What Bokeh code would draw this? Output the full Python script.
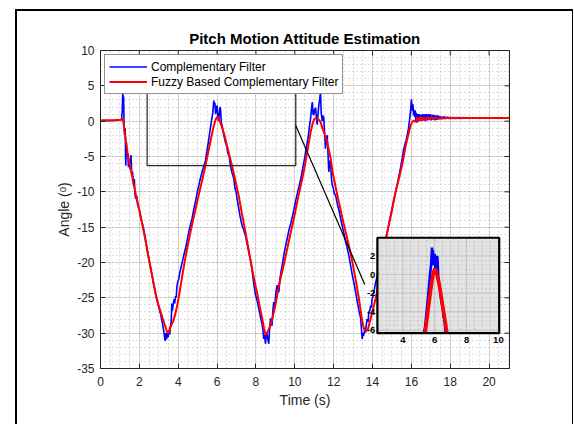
import numpy as np
from bokeh.plotting import figure
from bokeh.models import (Range1d, SingleIntervalTicker, Legend, LegendItem,
                          PrintfTickFormatter, InlineStyleSheet)
from bokeh.embed import file_html
from bokeh.resources import INLINE
from bokeh.core.properties import value

# ---------------- data ----------------
title_text = "Pitch Motion Attitude Estimation"
x_label = "Time (s)"
y_label = "Angle (\u1d52)"
series_names = ["Complementary Filter", "Fuzzy Based Complementary Filter"]

t_cf = [0.00, 0.30, 0.60, 0.90, 1.08, 1.12, 1.15, 1.17, 1.19, 1.21, 1.24, 1.27, 1.30, 1.33, 1.36, 1.40,
        1.44, 1.48, 1.52, 1.57, 1.61, 1.65, 1.70, 1.74, 1.78, 1.82, 1.87, 1.91, 1.96, 2.00, 2.05, 2.10,
        2.20, 2.30, 2.40, 2.50, 2.60, 2.70, 2.80, 2.90, 3.00, 3.10, 3.18, 3.25, 3.30, 3.33, 3.36, 3.40,
        3.44, 3.48, 3.52, 3.56, 3.60, 3.64, 3.67, 3.70, 3.74, 3.78, 3.82, 3.86, 3.90, 3.93, 3.97, 4.02,
        4.08, 4.15, 4.22, 4.30, 4.37, 4.45, 4.55, 4.65, 4.71, 4.80, 4.90, 5.00, 5.07, 5.14, 5.22, 5.30,
        5.40, 5.48, 5.56, 5.65, 5.72, 5.78, 5.83, 5.86, 5.89, 5.92, 5.96, 6.00, 6.04, 6.08, 6.12, 6.15,
        6.18, 6.22, 6.26, 6.32, 6.38, 6.43, 6.50, 6.56, 6.62, 6.68, 6.74, 6.80, 6.86, 6.92, 6.98, 7.03,
        7.10, 7.18, 7.24, 7.29, 7.35, 7.40, 7.46, 7.52, 7.58, 7.65, 7.72, 7.80, 7.88, 7.97, 8.06, 8.15,
        8.24, 8.32, 8.37, 8.40, 8.44, 8.49, 8.53, 8.57, 8.61, 8.66, 8.70, 8.75, 8.79, 8.83, 8.87, 8.92,
        8.97, 9.02, 9.09, 9.14, 9.18, 9.24, 9.30, 9.35, 9.42, 9.50, 9.61, 9.70, 9.80, 9.95, 10.05, 10.15,
        10.29, 10.40, 10.50, 10.58, 10.64, 10.70, 10.76, 10.81, 10.85, 10.90, 10.94, 10.98, 11.02, 11.07,
        11.11, 11.15, 11.20, 11.24, 11.28, 11.32, 11.36, 11.41, 11.45, 11.49, 11.53, 11.58, 11.62, 11.67,
        11.71, 11.75, 11.80, 11.84, 11.89, 11.93, 11.98, 12.03, 12.10, 12.18, 12.27, 12.36, 12.44, 12.52,
        12.61, 12.70, 12.78, 12.87, 12.96, 13.05, 13.13, 13.22, 13.30, 13.39, 13.43, 13.47, 13.50, 13.53,
        13.56, 13.60, 13.64, 13.68, 13.72, 13.77, 13.81, 13.86, 13.90, 13.94, 13.98, 14.03, 14.07, 14.15,
        14.25, 14.35, 14.45, 14.55, 14.65, 14.76, 14.88, 15.00, 15.10, 15.19, 15.30, 15.40, 15.48, 15.54,
        15.60, 15.66, 15.72, 15.79, 15.85, 15.90, 15.94, 15.97, 16.00, 16.02, 16.05, 16.08, 16.11, 16.14,
        16.17, 16.20, 16.23, 16.26, 16.29, 16.32, 16.36, 16.40, 16.44, 16.48, 16.52, 16.57, 16.62, 16.67,
        16.72, 16.77, 16.82, 16.87, 16.92, 16.97, 17.02, 17.07, 17.12, 17.17, 17.22, 17.27, 17.32, 17.37,
        17.42, 17.47, 17.52, 17.57, 17.62, 17.67, 17.72, 17.77, 17.82, 17.87, 17.93, 17.98, 18.04, 18.10,
        18.16, 18.22, 18.28, 18.34, 18.40, 18.48, 18.56, 18.64, 18.72, 18.80, 18.90, 19.00, 19.20, 19.60,
        20.00, 20.50, 21.05]
v_cf = [0.10, 0.12, 0.10, 0.15, 0.20, 1.5, 4.4, 2.0, 3.5, -0.5, -2.0, -1.0, -6.3, -3.0, -5.0, -4.5,
        -6.5, -5.8, -6.8, -4.8, -7.5, -7.2, -9.0, -8.2, -10.5, -11.0, -10.6, -11.8, -12.2, -12.6, -13.4, -14.0,
        -15.0, -16.4, -18.2, -19.6, -21.0, -22.5, -24.0, -25.3, -26.3, -27.4, -28.5, -29.6, -30.6, -31.1, -30.0, -30.9,
        -29.8, -30.6, -29.6, -30.2, -29.0, -28.3, -25.8, -26.8, -26.0, -25.2, -25.8, -24.8, -24.9, -23.5, -22.8, -22.4,
        -21.5, -20.6, -19.8, -18.8, -18.1, -17.0, -15.6, -14.4, -13.8, -12.5, -11.2, -9.8, -9.0, -8.1, -7.3, -6.5,
        -5.6, -4.2, -2.8, -1.1, 0.2, 1.2, 2.9, 2.2, 2.6, 1.0, 1.8, 2.2, 0.6, 0.0, 1.2, 2.0,
        1.6, -0.2, -0.6, -1.6, -2.4, -3.0, -3.6, -4.6, -4.9, -6.2, -7.0, -7.6, -8.1, -9.5, -10.0, -11.0,
        -12.1, -13.4, -14.2, -14.8, -15.2, -15.7, -16.2, -17.0, -17.8, -18.8, -19.6, -21.0, -22.8, -24.5, -25.4, -26.6,
        -27.8, -28.8, -29.8, -30.8, -30.2, -31.5, -30.3, -30.0, -30.8, -31.5, -29.6, -27.9, -28.8, -28.9, -26.8, -25.6,
        -26.2, -24.4, -23.2, -24.0, -24.2, -22.2, -21.2, -20.4, -19.2, -18.0, -16.6, -15.4, -14.4, -12.6, -11.2, -10.0,
        -8.4, -6.8, -5.3, -4.0, -3.0, -2.0, -0.6, 0.3, 1.5, 2.7, 1.0, 0.9, 1.6, 1.9,
        0.6, -0.5, 1.2, 2.3, 3.0, 4.1, 1.2, 0.0, 0.8, 0.5, -1.5, -3.9, -2.4, -2.0,
        -4.6, -7.2, -5.6, -5.8, -8.2, -9.1, -9.4, -10.2, -10.5, -11.6, -12.6, -13.8, -14.8, -15.8,
        -17.0, -18.0, -19.0, -20.4, -21.8, -23.0, -24.2, -25.6, -26.8, -27.9, -29.4, -30.8, -30.0, -30.4,
        -30.1, -29.5, -29.9, -28.8, -28.0, -28.4, -27.0, -26.8, -26.1, -26.4, -25.1, -24.8, -24.2, -23.0,
        -21.8, -20.4, -19.0, -18.0, -16.9, -15.7, -14.0, -12.4, -11.0, -10.0, -8.6, -7.2, -6.0, -5.1,
        -4.0, -3.4, -2.8, -2.0, -1.0, 0.0, 1.0, 1.8, 3.1, 2.6, 1.5, 2.4, 0.8, 1.6,
        0.6, 1.5, 0.0, 1.2, -0.2, 1.0, 0.0, 1.0, 0.1, 0.9, 0.0, 1.0, 0.1, 1.0,
        0.0, 1.0, 0.1, 1.0, 0.2, 1.0, 0.1, 0.9, 0.2, 0.9, 0.1, 0.8, 0.2, 0.8,
        0.3, 0.7, 0.3, 0.6, 0.3, 0.7, 0.3, 0.6, 0.35, 0.6, 0.35, 0.55, 0.35, 0.55,
        0.35, 0.55, 0.35, 0.55, 0.38, 0.52, 0.38, 0.52, 0.40, 0.50, 0.42, 0.48, 0.45, 0.45,
        0.45, 0.45, 0.45]

t_fz = [0.00, 0.50, 1.00, 1.10, 1.15, 1.22, 1.30, 1.39, 1.50, 1.60, 1.72, 1.85, 2.00, 2.17, 2.35, 2.55,
        2.72, 2.89, 3.05, 3.20, 3.33, 3.42, 3.47, 3.53, 3.62, 3.73, 3.85, 3.96, 4.06, 4.20, 4.37, 4.54,
        4.70, 4.88, 5.05, 5.22, 5.40, 5.55, 5.70, 5.82, 5.92, 6.00, 6.06, 6.14, 6.22, 6.34, 6.55, 6.77,
        6.94, 7.11, 7.28, 7.46, 7.60, 7.72, 7.85, 7.97, 8.06, 8.18, 8.32, 8.42, 8.49, 8.56, 8.65, 8.75,
        8.87, 9.00, 9.20, 9.43, 9.70, 9.95, 10.20, 10.46, 10.65, 10.81, 10.92, 11.00, 11.07, 11.15, 11.24, 11.32,
        11.45, 11.58, 11.67, 11.84, 11.93, 12.10, 12.27, 12.44, 12.62, 12.80, 12.96, 13.13, 13.30, 13.43, 13.52, 13.60,
        13.68, 13.76, 13.86, 14.00, 14.16, 14.33, 14.50, 14.63, 14.76, 14.98, 15.19, 15.37, 15.54, 15.70, 15.80, 15.88,
        15.96, 16.05, 16.13, 16.22, 16.30, 16.38, 16.46, 16.55, 16.64, 16.73, 16.82, 16.92, 17.02, 17.12, 17.25, 17.40,
        17.60, 18.00, 19.00, 20.00, 21.05]
v_fz = [0.10, 0.10, 0.15, 0.25, 0.35, -1.0, -2.6, -4.5, -6.0, -7.4, -9.1, -10.8, -12.6, -14.8, -17.4, -20.4,
        -22.8, -25.1, -26.6, -27.9, -29.0, -29.8, -30.0, -29.7, -29.0, -28.4, -27.3, -25.9, -24.4, -22.0, -19.3, -16.9,
        -14.8, -12.6, -10.5, -8.5, -6.3, -4.3, -2.3, -0.8, 0.2, 0.6, 0.5, 0.0, -0.6, -1.6, -3.9, -6.3,
        -8.4, -10.5, -13.1, -15.7, -17.8, -19.7, -21.6, -23.2, -24.3, -26.0, -27.9, -29.4, -30.2, -30.0, -29.5, -28.9,
        -27.6, -26.1, -23.0, -20.4, -16.9, -13.8, -10.4, -7.2, -4.2, -1.6, -0.3, 0.3, 0.4, 0.3, 0.2, -0.1,
        -1.2, -2.2, -3.0, -5.2, -7.0, -9.3, -11.5, -13.6, -15.7, -17.8, -19.9, -22.4, -25.1, -27.6, -29.0, -29.6,
        -29.7, -29.5, -28.4, -26.9, -25.1, -22.8, -20.4, -18.0, -15.7, -12.9, -10.0, -8.0, -6.0, -3.6, -2.4, -1.5,
        -0.6, -0.1, 0.1, -0.1, 0.5, 0.0, 0.6, 0.1, 0.6, 0.2, 0.6, 0.2, 0.6, 0.3, 0.5, 0.35,
        0.45, 0.45, 0.45, 0.45, 0.45]

x_limits = [0, 21.05]
y_limits = [-35, 10]
x_ticks = [0, 2, 4, 6, 8, 10, 12, 14, 16, 18, 20]
y_ticks = [-35, -30, -25, -20, -15, -10, -5, 0, 5, 10]

# zoomed region, and where its inset sits (main-axis units)
zoom_x = [2.4, 10.05]
zoom_y = [-6.3, 3.95]
inset_x = [14.25, 20.52]
inset_y = [-30.0, -16.5]
inset_xticks = [4, 6, 8, 10]
inset_yticks = [-6, -4, -2, 0, 2]
connector_x = [10.05, 13.6]
connector_y = [-0.6, -23.1]

FONT = "Liberation Sans"
AX = "#262626"
BLUE = "#0000ff"
RED = "#ff0000"

# ---------------- figure ----------------
p = figure(width=574, height=424, output_backend="svg", toolbar_location=None,
           x_range=Range1d(*x_limits), y_range=Range1d(*y_limits),
           min_border_left=100, min_border_right=65, min_border_top=50, min_border_bottom=56,
           x_axis_label=x_label, y_axis_label=y_label)
p.background_fill_color = "white"
p.border_fill_color = "white"
p.outline_line_color = AX
p.outline_line_width = 1

p.title.text = title_text
p.title.align = "center"
p.title.text_font = FONT
p.title.text_font_size = "15px"
p.title.text_font_style = "bold"
p.title.text_color = "black"
p.title.standoff = 7

xt = SingleIntervalTicker(interval=x_ticks[1] - x_ticks[0], num_minor_ticks=4)
yt = SingleIntervalTicker(interval=y_ticks[1] - y_ticks[0], num_minor_ticks=5)
p.xaxis.ticker = xt
p.yaxis.ticker = yt
for ax in (p.xaxis[0], p.yaxis[0]):
    ax.formatter = PrintfTickFormatter(format="%d")
    ax.axis_line_color = AX
    ax.major_tick_line_color = AX
    ax.major_tick_in = 5
    ax.major_tick_out = 0
    ax.minor_tick_in = 0
    ax.minor_tick_out = 0
    ax.major_label_text_font = FONT
    ax.major_label_text_font_size = "12px"
    ax.major_label_text_color = AX
    ax.axis_label_text_font = FONT
    ax.axis_label_text_font_size = "14px"
    ax.axis_label_text_font_style = "normal"
    ax.axis_label_text_color = AX
p.xaxis.major_label_standoff = 8
p.xaxis.axis_label_standoff = 3
p.yaxis.major_label_standoff = 6
p.yaxis.axis_label_standoff = 2

# box ticks on top and right edges
p.ray(x=x_ticks, y=[y_limits[1]] * len(x_ticks), length=5, angle=-np.pi / 2,
      length_units="screen", line_color=AX, line_width=1)
p.ray(x=[x_limits[1]] * len(y_ticks), y=y_ticks, length=5, angle=np.pi,
      length_units="screen", line_color=AX, line_width=1)

for g in (p.xgrid[0], p.ygrid[0]):
    g.grid_line_color = AX
    g.grid_line_alpha = 0.15
    g.minor_grid_line_color = AX
    g.minor_grid_line_alpha = 0.3
    g.minor_grid_line_dash = "1 3"

# main curves
r_cf = p.line(t_cf, v_cf, line_color=BLUE, line_width=1.6)
r_fz = p.line(t_fz, v_fz, line_color=RED, line_width=2.0)

# zoom rectangle and connector
p.quad(left=[zoom_x[0]], right=[zoom_x[1]], bottom=[zoom_y[0]], top=[zoom_y[1]],
       fill_alpha=0, line_color=AX, line_width=1.2)
p.line(connector_x, connector_y, line_color="black", line_width=1.2)

# ---------------- inset ----------------
def map_x(x):
    return inset_x[0] + (np.asarray(x, float) - zoom_x[0]) / (zoom_x[1] - zoom_x[0]) * (inset_x[1] - inset_x[0])

def map_y(y):
    return inset_y[0] + (np.asarray(y, float) - zoom_y[0]) / (zoom_y[1] - zoom_y[0]) * (inset_y[1] - inset_y[0])

def clip_polyline(xs, ys, x0, x1, y0, y1):
    runs, cx, cy = [], [], []
    for i in range(len(xs) - 1):
        ax_, ay_, bx_, by_ = xs[i], ys[i], xs[i + 1], ys[i + 1]
        dx, dy = bx_ - ax_, by_ - ay_
        u0, u1, ok = 0.0, 1.0, True
        for pp, qq in ((-dx, ax_ - x0), (dx, x1 - ax_), (-dy, ay_ - y0), (dy, y1 - ay_)):
            if pp == 0:
                if qq < 0:
                    ok = False
                    break
            else:
                r = qq / pp
                if pp < 0:
                    if r > u1:
                        ok = False
                        break
                    u0 = max(u0, r)
                else:
                    if r < u0:
                        ok = False
                        break
                    u1 = min(u1, r)
        if not ok:
            if cx:
                runs.append((cx, cy))
                cx, cy = [], []
            continue
        sx, sy = ax_ + u0 * dx, ay_ + u0 * dy
        ex, ey = ax_ + u1 * dx, ay_ + u1 * dy
        if not cx or u0 > 0:
            if cx:
                runs.append((cx, cy))
            cx, cy = [sx], [sy]
        cx.append(ex)
        cy.append(ey)
        if u1 < 1:
            runs.append((cx, cy))
            cx, cy = [], []
    if cx:
        runs.append((cx, cy))
    return runs

p.quad(left=[inset_x[0]], right=[inset_x[1]], bottom=[inset_y[0]], top=[inset_y[1]],
       fill_color="#e3e3e3", line_color=None)

# inset grid
minor_x = np.arange(np.ceil(zoom_x[0] * 2) / 2, zoom_x[1], 0.5)
minor_y = np.arange(np.ceil(zoom_y[0] * 2) / 2, zoom_y[1], 0.5)
p.segment(x0=map_x(minor_x), x1=map_x(minor_x), y0=[inset_y[0]] * len(minor_x), y1=[inset_y[1]] * len(minor_x),
          line_color="#9a9a9a", line_width=1, line_dash="1 3", line_alpha=0.6)
p.segment(x0=[inset_x[0]] * len(minor_y), x1=[inset_x[1]] * len(minor_y), y0=map_y(minor_y), y1=map_y(minor_y),
          line_color="#9a9a9a", line_width=1, line_dash="1 3", line_alpha=0.6)
p.segment(x0=map_x(inset_xticks), x1=map_x(inset_xticks), y0=[inset_y[0]] * len(inset_xticks),
          y1=[inset_y[1]] * len(inset_xticks), line_color="#c4c4c4", line_width=1)
p.segment(x0=[inset_x[0]] * len(inset_yticks), x1=[inset_x[1]] * len(inset_yticks), y0=map_y(inset_yticks),
          y1=map_y(inset_yticks), line_color="#c4c4c4", line_width=1)

for xs, ys, col, lw in ((t_cf, v_cf, BLUE, 2.6), (t_fz, v_fz, RED, 3.6)):
    runs = clip_polyline(xs, ys, zoom_x[0], zoom_x[1], zoom_y[0], zoom_y[1])
    p.multi_line([list(map_x(r[0])) for r in runs], [list(map_y(r[1])) for r in runs],
                 line_color=col, line_width=lw)

p.quad(left=[inset_x[0]], right=[inset_x[1]], bottom=[inset_y[0]], top=[inset_y[1]],
       fill_alpha=0, line_color="black", line_width=2.2)

p.text(x=map_x(inset_xticks), y=[inset_y[0]] * len(inset_xticks), text=[str(v) for v in inset_xticks],
       text_font=value(FONT), text_font_size="9.5px", text_font_style="bold", text_color="black",
       text_align="center", text_baseline="top", y_offset=4)
p.text(x=[inset_x[0]] * len(inset_yticks), y=map_y(inset_yticks), text=[str(v) for v in inset_yticks],
       text_font=value(FONT), text_font_size="9.5px", text_font_style="bold", text_color="black",
       text_align="right", text_baseline="middle", x_offset=-2)

# legend
legend = Legend(items=[LegendItem(label=series_names[0], renderers=[r_cf]),
                       LegendItem(label=series_names[1], renderers=[r_fz])],
                location="top_left")
legend.margin = 4
legend.padding = 4
legend.spacing = 0
legend.label_height = 15
legend.glyph_height = 15
legend.glyph_width = 38
legend.label_standoff = 4
legend.label_text_font = FONT
legend.label_text_font_size = "12px"
legend.label_text_color = "black"
legend.border_line_color = AX
legend.border_line_width = 1
legend.background_fill_color = "white"
legend.background_fill_alpha = 1
p.add_layout(legend)

# outer figure border (left, top and right edges)
p.stylesheets = [InlineStyleSheet(css="""
:host { position: relative; }
:host::after {
  content: ""; position: absolute; left: 15px; top: 9px; width: 558px; height: 415px;
  border-left: 2px solid black; border-top: 2px solid black; border-right: 1px solid black;
  box-sizing: border-box; pointer-events: none; z-index: 10;
}
""")]

open("out.html", "w").write(file_html(p, INLINE))
